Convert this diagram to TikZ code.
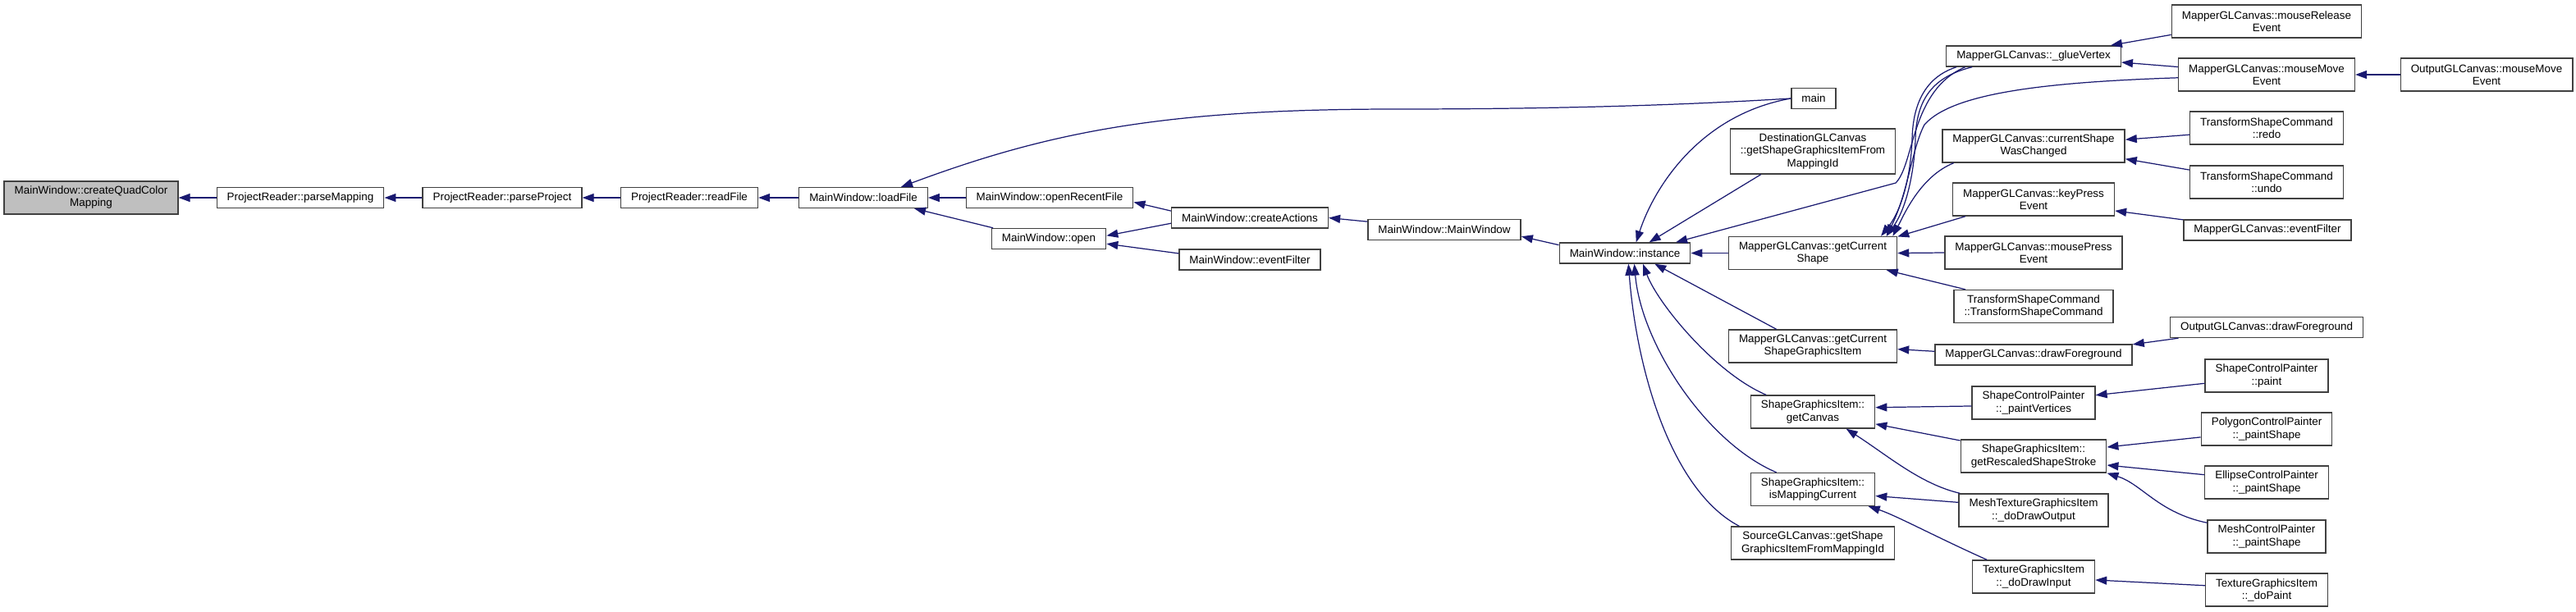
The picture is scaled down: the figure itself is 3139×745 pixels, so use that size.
\documentclass[tikz,border=0pt]{standalone}
\usepackage{fontspec}
\setmainfont{Liberation Sans}
\usepackage{xcolor,tikz}
\usetikzlibrary{arrows.meta}
\definecolor{callblue}{HTML}{191970}
\definecolor{rootgray}{HTML}{BFBFBF}

\begin{document}
\begin{tikzpicture}[x=0.02cm,y=-0.02cm,font=\fontsize{7.65pt}{8.55pt}\selectfont,
  fnbox/.style={draw=black!75,line width=0.8pt,fill=white,align=center,
    inner xsep=0.25cm,inner ysep=0pt,minimum height=0.5cm},
  fntwo/.style={fnbox,minimum height=0.8cm},
  fnthree/.style={fnbox,minimum height=1.1cm},
  calls/.style={draw=callblue,line width=0.7pt,
    {Triangle[length=0.28cm,width=0.2cm]}-}]
\useasboundingbox (0,0) rectangle (3139,745);
% column 0 to 5
\node[fntwo,fill=rootgray] (root) at (111,241) {MainWindow::createQuadColor\\Mapping};
\node[fnbox] (pmap) at (366,241) {ProjectReader::parseMapping};
\node[fnbox] (pproj) at (612,241) {ProjectReader::parseProject};
\node[fnbox] (rfile) at (840,241) {ProjectReader::readFile};
\node[fnbox] (lfile) at (1052,241) {MainWindow::loadFile};
\node[fnbox] (orecent) at (1279,241) {MainWindow::openRecentFile};
\node[fnbox] (mwopen) at (1278,291) {MainWindow::open};
\node[fnbox] (cact) at (1523,265.5) {MainWindow::createActions};
\node[fnbox] (mwfilter) at (1523,316.5) {MainWindow::eventFilter};
\node[fnbox] (mwctor) at (1760,280) {MainWindow::MainWindow};
\node[fnbox] (inst) at (1980,308.5) {MainWindow::instance};
% column 6
\node[fnbox] (mainfn) at (2210,120) {main};
\node[fnthree] (destid) at (2209,184.5) {DestinationGLCanvas\\::getShapeGraphicsItemFrom\\MappingId};
\node[fntwo] (gcshape) at (2209,308.5) {MapperGLCanvas::getCurrent\\Shape};
\node[fntwo] (gcsgi) at (2209,422) {MapperGLCanvas::getCurrent\\ShapeGraphicsItem};
\node[fntwo] (gcanvas) at (2209,502) {ShapeGraphicsItem::\\getCanvas};
\node[fntwo] (ismap) at (2209,596.5) {ShapeGraphicsItem::\\isMappingCurrent};
\node[fntwo] (srcid) at (2209,662) {SourceGLCanvas::getShape\\GraphicsItemFromMappingId};
% column 7
\node[fnbox] (glue) at (2478,68.5) {MapperGLCanvas::\_glueVertex};
\node[fntwo] (cswc) at (2478,178) {MapperGLCanvas::currentShape\\WasChanged};
\node[fntwo] (kpress) at (2478,243) {MapperGLCanvas::keyPress\\Event};
\node[fntwo] (mpress) at (2478,308) {MapperGLCanvas::mousePress\\Event};
\node[fntwo] (tsctor) at (2478,373.5) {TransformShapeCommand\\::TransformShapeCommand};
\node[fnbox] (mdraw) at (2478,432.5) {MapperGLCanvas::drawForeground};
\node[fntwo] (paintv) at (2478,491) {ShapeControlPainter\\::\_paintVertices};
\node[fntwo] (rescaled) at (2478,556) {ShapeGraphicsItem::\\getRescaledShapeStroke};
\node[fntwo] (meshout) at (2478,622) {MeshTextureGraphicsItem\\::\_doDrawOutput};
\node[fntwo] (drawin) at (2478,703) {TextureGraphicsItem\\::\_doDrawInput};
% column 8 and 9
\node[fntwo] (mrelease) at (2762,26) {MapperGLCanvas::mouseRelease\\Event};
\node[fntwo] (mmove) at (2762,91) {MapperGLCanvas::mouseMove\\Event};
\node[fntwo] (redo) at (2762,156) {TransformShapeCommand\\::redo};
\node[fntwo] (undo) at (2762,222) {TransformShapeCommand\\::undo};
\node[fnbox] (mfilter) at (2763,280.5) {MapperGLCanvas::eventFilter};
\node[fnbox] (odraw) at (2762,399) {OutputGLCanvas::drawForeground};
\node[fntwo] (cpaint) at (2762,458) {ShapeControlPainter\\::paint};
\node[fntwo] (polyps) at (2762,523) {PolygonControlPainter\\::\_paintShape};
\node[fntwo] (ellps) at (2762,588) {EllipseControlPainter\\::\_paintShape};
\node[fntwo] (meshps) at (2762,654) {MeshControlPainter\\::\_paintShape};
\node[fntwo] (dopaint) at (2762,719) {TextureGraphicsItem\\::\_doPaint};
\node[fntwo] (omove) at (3030,91) {OutputGLCanvas::mouseMove\\Event};
% calls, tip at the callee
\draw[calls] (root.east) -- (pmap.west);
\draw[calls] (pmap.east) -- (pproj.west);
\draw[calls] (pproj.east) -- (rfile.west);
\draw[calls] (rfile.east) -- (lfile.west);
\draw[calls] (lfile.east) -- (orecent.west);
\draw[calls] (lfile.-12) -- (mwopen.169);
\draw[calls] (lfile.16) .. controls (1280,160) and (1420,133) .. (1700,133)
  .. controls (1950,133) and (2100,125) .. (mainfn.west);
\draw[calls] (orecent.-3) -- (cact.175.5);
\draw[calls] (mwopen.3) -- (cact.-176);
\draw[calls] (mwopen.-5) -- (mwfilter.175.6);
\draw[calls] (cact.0) -- (mwctor.174);
\draw[calls] (mwctor.-5.5) -- (inst.173);
\draw[calls] (inst.44) .. controls (2015,230) and (2070,140) .. (mainfn.west);
\draw[calls] (inst.24) -- (destid.-156);
\draw[calls] (inst.12) -- (2310,223) .. controls (2333,200) and (2328,110) .. (glue.-171.6);
\draw[calls] (inst.east) -- (gcshape.west);
\draw[calls] (inst.-20) -- (gcsgi.155);
\draw[calls] (inst.-31) .. controls (2020,370) and (2090,455) .. (gcanvas.160);
\draw[calls] (inst.-49) .. controls (2000,420) and (2080,540) .. (ismap.155);
\draw[calls] (inst.-72) .. controls (1995,460) and (2040,600) .. (srcid.167);
\draw[calls] (gcshape.14.7) .. controls (2322,250) and (2329,200) .. (2330,170)
  .. controls (2331,112) and (2358,90) .. (glue.-172);
\draw[calls] (gcshape.13.9) .. controls (2326,250) and (2333,200) .. (2334,170)
  .. controls (2335,114) and (2362,92) .. (glue.-170.5);
\draw[calls] (gcshape.13.1) .. controls (2325,235) and (2330,180) .. (2345,152)
  .. controls (2380,112) and (2500,100) .. (mmove.-178);
\draw[calls] (gcshape.12.4) .. controls (2320,262) and (2340,215) .. (cswc.-168);
\draw[calls] (gcshape.11.2) -- (kpress.-166.6);
\draw[calls] (gcshape.east) -- (mpress.west);
\draw[calls] (gcshape.-13.2) -- (tsctor.166);
\draw[calls] (glue.8) -- (mrelease.-172);
\draw[calls] (glue.-4.6) -- (mmove.175);
\draw[calls] (mmove.east) -- (omove.west);
\draw[calls] (cswc.4.7) -- (redo.-175.7);
\draw[calls] (cswc.-8.8) -- (undo.171);
\draw[calls] (kpress.-8) -- (mfilter.173);
\draw[calls] (gcsgi.-2.3) -- (mdraw.178);
\draw[calls] (mdraw.6.4) -- (odraw.-173.2);
\draw[calls] (gcanvas.4.6) -- (paintv.-177.6);
\draw[calls] (gcanvas.-11.5) -- (rescaled.168.6);
\draw[calls] (gcanvas.-27) .. controls (2300,555) and (2340,590) .. (meshout.167);
\draw[calls] (ismap.-6.5) -- (meshout.174.3);
\draw[calls] (ismap.-17) .. controls (2310,628) and (2360,655) .. (drawin.160);
\draw[calls] (paintv.7) -- (cpaint.-173);
\draw[calls] (rescaled.7.7) -- (polyps.-173.4);
\draw[calls] (rescaled.-7) -- (ellps.173.8);
\draw[calls] (rescaled.-13) .. controls (2610,590) and (2630,625) .. (meshps.167);
\draw[calls] (drawin.-3.9) -- (dopaint.176.9);
\end{tikzpicture}
\end{document}
